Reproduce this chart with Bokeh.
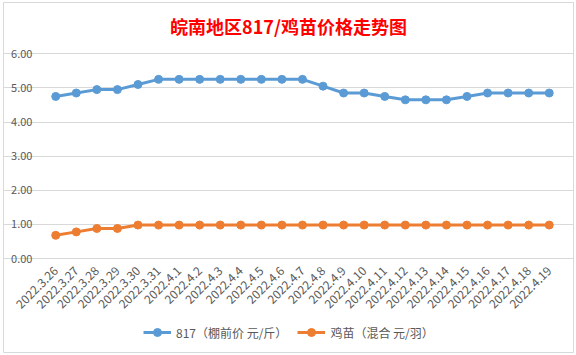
import math
from bokeh.plotting import figure
from bokeh.models import Legend, LegendItem, ColumnDataSource, Label, FixedTicker
from bokeh.embed import file_html
from bokeh.resources import INLINE

dates = ["2022.3.26", "2022.3.27", "2022.3.28", "2022.3.29", "2022.3.30", "2022.3.31",
         "2022.4.1", "2022.4.2", "2022.4.3", "2022.4.4", "2022.4.5", "2022.4.6", "2022.4.7",
         "2022.4.8", "2022.4.9", "2022.4.10", "2022.4.11", "2022.4.12", "2022.4.13",
         "2022.4.14", "2022.4.15", "2022.4.16", "2022.4.17", "2022.4.18", "2022.4.19"]
price_817 = [4.75, 4.85, 4.95, 4.95, 5.10, 5.25, 5.25, 5.25, 5.25, 5.25, 5.25, 5.25, 5.25,
             5.05, 4.85, 4.85, 4.75, 4.65, 4.65, 4.65, 4.75, 4.85, 4.85, 4.85, 4.85]
price_chick = [0.68, 0.78, 0.88, 0.88, 0.98, 0.98, 0.98, 0.98, 0.98, 0.98, 0.98, 0.98, 0.98,
               0.98, 0.98, 0.98, 0.98, 0.98, 0.98, 0.98, 0.98, 0.98, 0.98, 0.98, 0.98]
y_ticks = [0, 1, 2, 3, 4, 5, 6]
series_names = ["817（棚前价 元/斤）", "鸡苗（混合 元/羽）"]
title_text = "皖南地区817/鸡苗价格走势图"

BLUE = "#5B9BD5"
ORANGE = "#ED7D31"
GRID = "#D9D9D9"
TXT = "#595959"
CJK = "Noto Sans CJK SC"

idx = list(range(len(dates)))
n = len(dates)

# layout: the frame is the whole chart box; plot area = categories -0.5..n-0.5, values 0..6
X_START, X_END = -2.54, n + 0.18
Y_START, Y_END = -2.755, 7.503

src = ColumnDataSource(dict(x=idx, a=price_817, b=price_chick))

p = figure(frame_width=570, frame_height=350, x_range=(X_START, X_END), y_range=(Y_START, Y_END),
           output_backend="svg", toolbar_location=None, title=None,
           min_border_left=3, min_border_right=3, min_border_top=2, min_border_bottom=3)

p.outline_line_color = GRID
p.outline_line_width = 1
p.background_fill_color = "white"
p.border_fill_color = "white"

p.xgrid.grid_line_color = None
p.ygrid.grid_line_color = GRID
p.ygrid.grid_line_width = 1
p.ygrid.ticker = FixedTicker(ticks=y_ticks)
p.ygrid.bounds = (-0.5, n - 0.5)

p.yaxis.fixed_location = -0.5
p.yaxis.axis_line_color = None
p.yaxis.major_tick_line_color = None
p.yaxis.minor_tick_line_color = None
p.yaxis.major_label_text_color = TXT
p.yaxis.major_label_text_font = CJK
p.yaxis.major_label_text_font_size = "11px"
p.yaxis.ticker = FixedTicker(ticks=y_ticks)
p.yaxis.major_label_overrides = {i: f"{i:.2f}" for i in y_ticks}
p.yaxis.major_label_standoff = 7

p.xaxis.fixed_location = 0
p.xaxis.bounds = (-0.5, n - 0.5)
p.xaxis.axis_line_color = GRID
p.xaxis.major_tick_line_color = None
p.xaxis.minor_tick_line_color = None
p.xaxis.ticker = FixedTicker(ticks=idx)
p.xaxis.major_label_overrides = {i: d for i, d in zip(idx, dates)}
p.xaxis.major_label_orientation = math.pi / 4
p.xaxis.major_label_text_color = TXT
p.xaxis.major_label_text_font = CJK
p.xaxis.major_label_text_font_size = "12px"
p.xaxis.major_label_standoff = 4

l1 = p.line("x", "a", source=src, line_color=BLUE, line_width=3)
c1 = p.scatter("x", "a", source=src, size=8, fill_color=BLUE, line_color=BLUE)
l2 = p.line("x", "b", source=src, line_color=ORANGE, line_width=3)
c2 = p.scatter("x", "b", source=src, size=8, fill_color=ORANGE, line_color=ORANGE)

p.add_layout(Label(x=11.32, y=6.80, text=title_text, text_color="#FF0000", text_font=CJK,
                   text_font_size="18px", text_font_style="bold",
                   text_align="center", text_baseline="middle"))

legend = Legend(items=[LegendItem(label=series_names[0], renderers=[l1, c1]),
                       LegendItem(label=series_names[1], renderers=[l2, c2])],
                orientation="horizontal", location=(140, 10),
                border_line_color=None, background_fill_alpha=0,
                label_text_font=CJK, label_text_font_size="12px", label_text_color=TXT,
                glyph_width=28, spacing=10, padding=4, margin=0)
p.add_layout(legend, "center")

open("out.html", "w").write(file_html(p, INLINE))
